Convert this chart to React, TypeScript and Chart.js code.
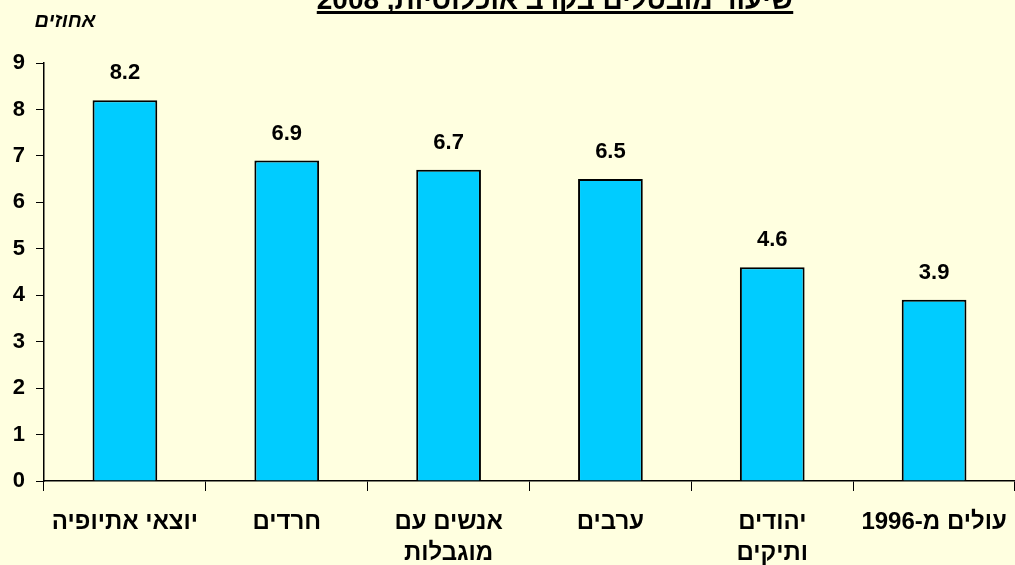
import React, { useEffect, useRef } from "react";
import { Chart, registerables } from "chart.js";

Chart.register(...registerables);

const titleText = "שיעור מובטלים בקרב אוכלוסיות, 2008";
const unitLabel = "אחוזים";
const categories: string[][] = [
  ["יוצאי אתיופיה"],
  ["חרדים"],
  ["אנשים עם", "מוגבלות"],
  ["ערבים"],
  ["יהודים", "ותיקים"],
  ["עולים מ-1996"],
];
const values = [8.2, 6.9, 6.7, 6.5, 4.6, 3.9];
const yMin = 0;
const yMax = 9;
const yStep = 1;

const BG = "#FFFFE0";
const BAR = "#00CCFF";
const FONT = "'Liberation Sans', Arial, sans-serif";

const decorPlugin = {
  id: "decor",
  beforeDraw(chart: any) {
    const { ctx, width, height } = chart;
    ctx.save();
    ctx.fillStyle = BG;
    ctx.fillRect(0, 0, width, height);
    ctx.restore();
  },
  afterDraw(chart: any) {
    const { ctx } = chart;
    ctx.save();
    ctx.direction = "rtl";
    ctx.fillStyle = "#000";
    ctx.font = `bold 28px ${FONT}`;
    ctx.textAlign = "center";
    ctx.textBaseline = "alphabetic";
    const tx = 555;
    const ty = 9;
    ctx.fillText(titleText, tx, ty);
    const w = ctx.measureText(titleText).width;
    ctx.fillRect(tx - w / 2, 11, w, 3);
    ctx.font = `italic bold 20px ${FONT}`;
    ctx.textBaseline = "middle";
    ctx.fillText(unitLabel, 65, 21);
    ctx.font = `bold 22px ${FONT}`;
    ctx.direction = "ltr";
    const meta = chart.getDatasetMeta(0);
    meta.data.forEach((bar: any, i: number) => {
      ctx.fillText(values[i].toFixed(1), bar.x, bar.y - 27);
    });
    ctx.restore();
  },
};

export default function App() {
  const ref = useRef<HTMLCanvasElement>(null);
  useEffect(() => {
    document.body.style.margin = "0";
    const chart = new Chart(ref.current!, {
      type: "bar",
      data: {
        labels: categories,
        datasets: [
          {
            data: values,
            backgroundColor: BAR,
            borderColor: "#000",
            borderWidth: 2,
            categoryPercentage: 1,
            barPercentage: 0.4,
          },
        ],
      },
      options: {
        responsive: false,
        animation: false,
        layout: { padding: { top: 63, right: 0, left: 0, bottom: 0 } },
        plugins: {
          legend: { display: false },
          tooltip: { enabled: false },
          title: { display: false },
        },
        scales: {
          x: {
            grid: {
              display: true,
              drawOnChartArea: false,
              drawTicks: true,
              tickLength: 10,
              color: "#000",
              offset: true,
            },
            border: { color: "#000", width: 1.5 },
            ticks: {
              color: "#000",
              font: { family: FONT, size: 24, weight: "bold", lineHeight: 1.3 },
              padding: 16,
              maxRotation: 0,
              autoSkip: false,
            },
            afterFit(scale: any) {
              scale.height = 84;
              scale.paddingLeft = 0;
              scale.paddingRight = 0;
            },
          },
          y: {
            min: yMin,
            max: yMax,
            grid: {
              display: true,
              drawOnChartArea: false,
              drawTicks: true,
              tickLength: 8,
              color: "#000",
            },
            border: { color: "#000", width: 1.5 },
            ticks: {
              stepSize: yStep,
              color: "#000",
              font: { family: FONT, size: 22, weight: "bold" },
              padding: 11,
            },
            afterFit(scale: any) {
              scale.width = 44;
              scale.paddingTop = 0;
              scale.paddingBottom = 0;
            },
          },
        },
      },
      plugins: [decorPlugin],
    });
    return () => chart.destroy();
  }, []);
  return (
    <div style={{ position: "fixed", left: 0, top: 0, width: 1015, height: 565, background: BG }}>
      <canvas ref={ref} width={1015} height={565} dir="rtl" style={{ display: "block" }} />
    </div>
  );
}
